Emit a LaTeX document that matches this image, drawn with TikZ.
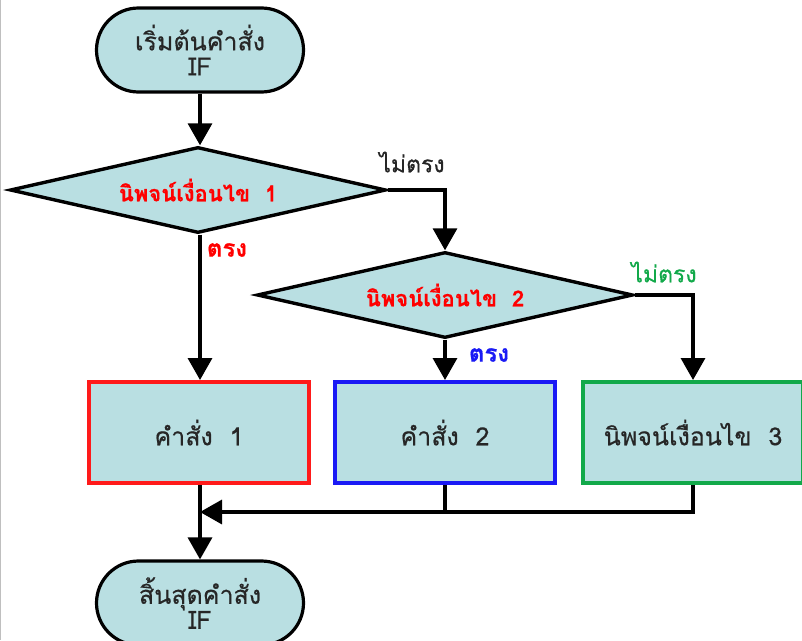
\documentclass[tikz,border=0pt]{standalone}
\usepackage{fontspec}
\setmainfont[Script=Thai, FakeBold=0.5]{Loma}
\usetikzlibrary{shapes.misc,shapes.geometric,arrows.meta}
\definecolor{fillblue}{HTML}{B9DFE2}
\definecolor{txtgray}{HTML}{262626}
\definecolor{boxred}{HTML}{FF1A1A}
\definecolor{boxblue}{HTML}{1A1AF5}
\definecolor{boxgreen}{HTML}{12A94A}
\tikzset{
  x=1pt, y=-1pt,
  every node/.style={font=\fontsize{25}{29}\selectfont, text=txtgray},
  term/.style={rounded rectangle, draw=black, line width=3.2pt, fill=fillblue,
    minimum width=207pt, minimum height=84pt, inner sep=0pt, align=center,
    font=\fontsize{25}{25}\selectfont},
  cond/.style={diamond, draw=black, line width=3.4pt, fill=fillblue, aspect=4.37,
    minimum width=376pt, minimum height=86pt, inner sep=0pt,
    font=\fontsize{22}{26}\selectfont\bfseries, text=red},
  stmt/.style={rectangle, line width=4pt, fill=fillblue,
    minimum width=220pt, minimum height=101pt, inner sep=0pt},
  flow/.style={line width=3.4pt, draw=black},
  arr/.style={flow, -{Triangle[length=22pt,width=24pt]}},
  lbl/.style={inner sep=0pt, font=\fontsize{23}{27}\selectfont},
  lblb/.style={inner sep=0pt, font=\fontsize{24}{28}\selectfont\bfseries}
}
\begin{document}
\begin{tikzpicture}
\useasboundingbox (0,0) rectangle (802,640);
\fill[white] (0,0) rectangle (802,640);
\draw[gray!50, line width=1pt] (0.5,0) -- (0.5,640);

\node[term] (start) at (200,50) {เริ่มต้นคำสั่ง\\IF};
\node[cond] (c1) at (198,190) {นิพจน์เงื่อนไข\ \ 1};
\node[cond] (c2) at (445,295) {นิพจน์เงื่อนไข\ \ 2};
\node[stmt, draw=boxred] (s1) at (199,432.5) {คำสั่ง\ \ 1};
\node[stmt, draw=boxblue] (s2) at (445,432.5) {คำสั่ง\ \ 2};
\node[stmt, draw=boxgreen] (s3) at (693,432.5) {นิพจน์เงื่อนไข\ \ 3};
\node[term] (stop) at (200,603) {สิ้นสุดคำสั่ง\\IF};

\coordinate (join) at (200,512);

\draw[arr] (start.south) -- (start.south |- c1.north);
\draw[arr] (c1.east) -| (c2.north);
\draw[arr] (c1.south -| 200,0) -- (200,0 |- s1.north);
\draw[arr] (c2.south) -- (s2.north);
\draw[arr] (c2.east) -| (s3.north);
\draw[arr] (s3.south) |- (join);
\draw[flow] (s2.south) -- (s2.south |- join);
\draw[arr] (s1.south -| 200,0) -- (stop.north);

\node[lbl] (no1) at (412,162) {ไม่ตรง};
\node[lblb, text=red] (yes1) at (227,250) {ตรง};
\node[lblb, text=boxblue] (yes2) at (489,355) {ตรง};
\node[lbl, text=boxgreen] (no2) at (664,272) {ไม่ตรง};
\end{tikzpicture}
\end{document}
